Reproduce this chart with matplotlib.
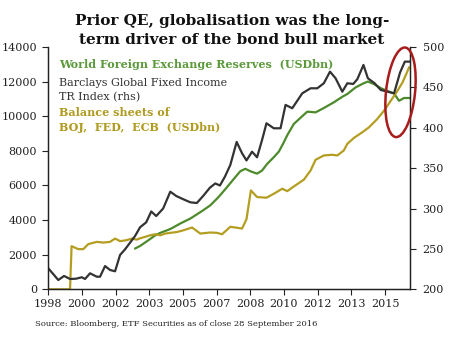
import matplotlib
matplotlib.use("Agg")
import matplotlib.pyplot as plt
from matplotlib.patches import Ellipse

plt.rcParams['font.family'] = ['DejaVu Serif']

# World FX reserves, USD bn (left axis)
fx_years = [2002.52, 2002.78, 2003.21, 2003.56, 2003.82, 2004.34, 2004.86, 2005.38,
            2005.99, 2006.42, 2006.85, 2007.29, 2007.72, 2007.98, 2008.24, 2008.50,
            2008.85, 2009.11, 2009.38, 2009.72, 2009.98, 2010.20, 2010.42, 2010.76,
            2011.11, 2011.46, 2011.89, 2012.32, 2012.84, 2013.28, 2013.54, 2013.97,
            2014.37, 2014.61, 2014.93, 2015.28, 2015.59, 2015.97, 2016.23, 2016.49,
            2016.75]
fx_reserves = [2360, 2510, 2840, 3120, 3260, 3480, 3800, 4085,
               4520, 4850, 5330, 5900, 6480, 6820, 6960, 6820,
               6680, 6860, 7250, 7630, 7950, 8400, 8900, 9550,
               9910, 10260, 10220, 10470, 10800, 11120, 11280, 11660,
               11890, 12000, 11850, 11620, 11470, 11310, 10890, 11050,
               11050]

# Barclays Global Fixed Income TR index (right axis)
bond_years = [1998.00, 1998.52, 1998.82, 1999.13, 1999.44, 1999.74, 1999.91, 2000.17,
              2000.52, 2000.69, 2000.95, 2001.21, 2001.47, 2001.73, 2001.99, 2002.25,
              2002.51, 2002.77, 2003.09, 2003.35, 2003.61, 2003.97, 2004.34, 2004.65,
              2005.02, 2005.38, 2005.72, 2006.07, 2006.40, 2006.68, 2006.92, 2007.18,
              2007.46, 2007.79, 2008.07, 2008.30, 2008.59, 2008.85, 2009.11, 2009.34,
              2009.72, 2010.07, 2010.33, 2010.68, 2011.20, 2011.63, 2011.98, 2012.32,
              2012.64, 2012.93, 2013.28, 2013.54, 2013.85, 2014.06, 2014.38, 2014.61,
              2014.96, 2015.28, 2015.63, 2015.97, 2016.28, 2016.53, 2016.75]
bond_index = [226.0, 211.5, 216.5, 212.8, 213.1, 214.9, 212.8, 219.8,
              215.6, 215.6, 228.8, 223.9, 222.3, 242.5, 249.5, 257.7,
              266.0, 276.8, 282.9, 296.3, 290.7, 300.0, 320.8, 315.5,
              311.4, 307.7, 306.8, 316.1, 325.8, 331.0, 328.5, 339.4,
              353.9, 382.4, 368.4, 359.5, 370.3, 363.4, 384.8, 405.5,
              399.3, 399.3, 428.2, 424.1, 442.6, 448.8, 448.8, 455.0,
              469.4, 461.2, 444.6, 455.0, 454.2, 460.0, 477.7, 461.2,
              455.0, 446.7, 444.6, 442.6, 468.2, 481.8, 481.8]

# Combined BOJ + FED + ECB balance sheets, USD bn (left axis)
cb_years = [1998.00, 1999.13, 1999.21, 1999.56, 1999.82, 2000.08, 2000.52, 2000.86,
            2001.21, 2001.47, 2001.73, 2002.08, 2002.34, 2002.60, 2002.78, 2003.04,
            2003.30, 2003.56, 2003.82, 2004.08, 2004.34, 2004.69, 2005.03, 2005.47,
            2005.90, 2006.42, 2006.77, 2007.03, 2007.46, 2007.72, 2008.07, 2008.30,
            2008.53, 2008.85, 2009.34, 2009.72, 2010.16, 2010.42, 2010.76, 2011.28,
            2011.63, 2011.89, 2012.32, 2012.76, 2013.02, 2013.36, 2013.54, 2013.89,
            2014.32, 2014.67, 2015.10, 2015.45, 2015.80, 2016.15, 2016.41, 2016.75]
cb_balance = [0, 0, 2490, 2320, 2320, 2610, 2740, 2700,
              2740, 2930, 2780, 2840, 2930, 2870, 2950, 3030,
              3120, 3180, 3120, 3220, 3260, 3310, 3410, 3570,
              3220, 3280, 3260, 3180, 3610, 3570, 3510, 4050,
              5710, 5330, 5290, 5520, 5810, 5670, 5940, 6330,
              6860, 7480, 7730, 7770, 7730, 8020, 8400, 8750,
              9070, 9360, 9840, 10320, 10890, 11470, 11950, 12810]

tick_years = [1998 + 1.75 * k for k in range(11)]
tick_labels = ['1998', '2000', '2002', '2003', '2005', '2007', '2008',
               '2010', '2012', '2013', '2015']

green = '#4d8a2c'
gold = '#b49e22'
dark = '#333333'

fig = plt.figure(figsize=(4.67, 3.44), dpi=100)
ax = fig.add_axes([0.1034, 0.159, 0.7746, 0.7046])
ax2 = ax.twinx()

ax.plot(fx_years, fx_reserves, color=green, lw=1.6)
ax.plot(cb_years, cb_balance, color=gold, lw=1.6)
ax2.plot(bond_years, bond_index, color=dark, lw=1.6)

ax.set_xlim(1998, 2016.8)
ax.set_ylim(0, 14000)
ax.set_yticks(range(0, 14001, 2000))
ax2.set_ylim(200, 500)
ax2.set_yticks(range(200, 501, 50))
ax.set_xticks(tick_years)
ax.set_xticklabels(tick_labels)

for a in (ax, ax2):
    for s in a.spines.values():
        s.set_color('#222222')
        s.set_linewidth(0.9)
    a.spines['top'].set_visible(False)
    a.tick_params(labelsize=8, length=4, width=0.8, color='#222222',
                  labelcolor='#222222')
ax.tick_params(axis='y', pad=4)
ax2.tick_params(axis='y', pad=5)
ax.tick_params(axis='x', pad=3)

fig.text(0.497, 0.94, 'Prior QE, globalisation was the long-', ha='center',
         va='center', fontsize=11, fontweight='bold', color='#111111')
fig.text(0.497, 0.883, 'term driver of the bond bull market', ha='center',
         va='center', fontsize=11, fontweight='bold', color='#111111')

fig.text(0.127, 0.813, 'World Foreign Exchange Reserves  (USDbn)',
         va='center', fontsize=8, color='#5a9a3a', fontweight='bold')
fig.text(0.127, 0.758, 'Barclays Global Fixed Income', va='center',
         fontsize=8, color='#333333')
fig.text(0.127, 0.717, 'TR Index (rhs)', va='center', fontsize=8, color='#333333')
fig.text(0.127, 0.672, 'Balance sheets of', va='center', fontsize=8,
         color='#b09a20', fontweight='bold')
fig.text(0.127, 0.630, 'BOJ,  FED,  ECB  (USDbn)', va='center', fontsize=8,
         color='#b09a20', fontweight='bold')

fig.text(0.074, 0.057, 'Source: Bloomberg, ETF Securities as of close 28 September 2016',
         va='center', fontsize=6, color='#222222')

# red ring around the latest moves
ring = Ellipse((4.005, 2.517), 0.29, 0.90, angle=-6, fill=False,
               edgecolor='#a81c1c', lw=1.8, transform=fig.dpi_scale_trans)
fig.add_artist(ring)

fig.savefig('out.png', dpi=100)
